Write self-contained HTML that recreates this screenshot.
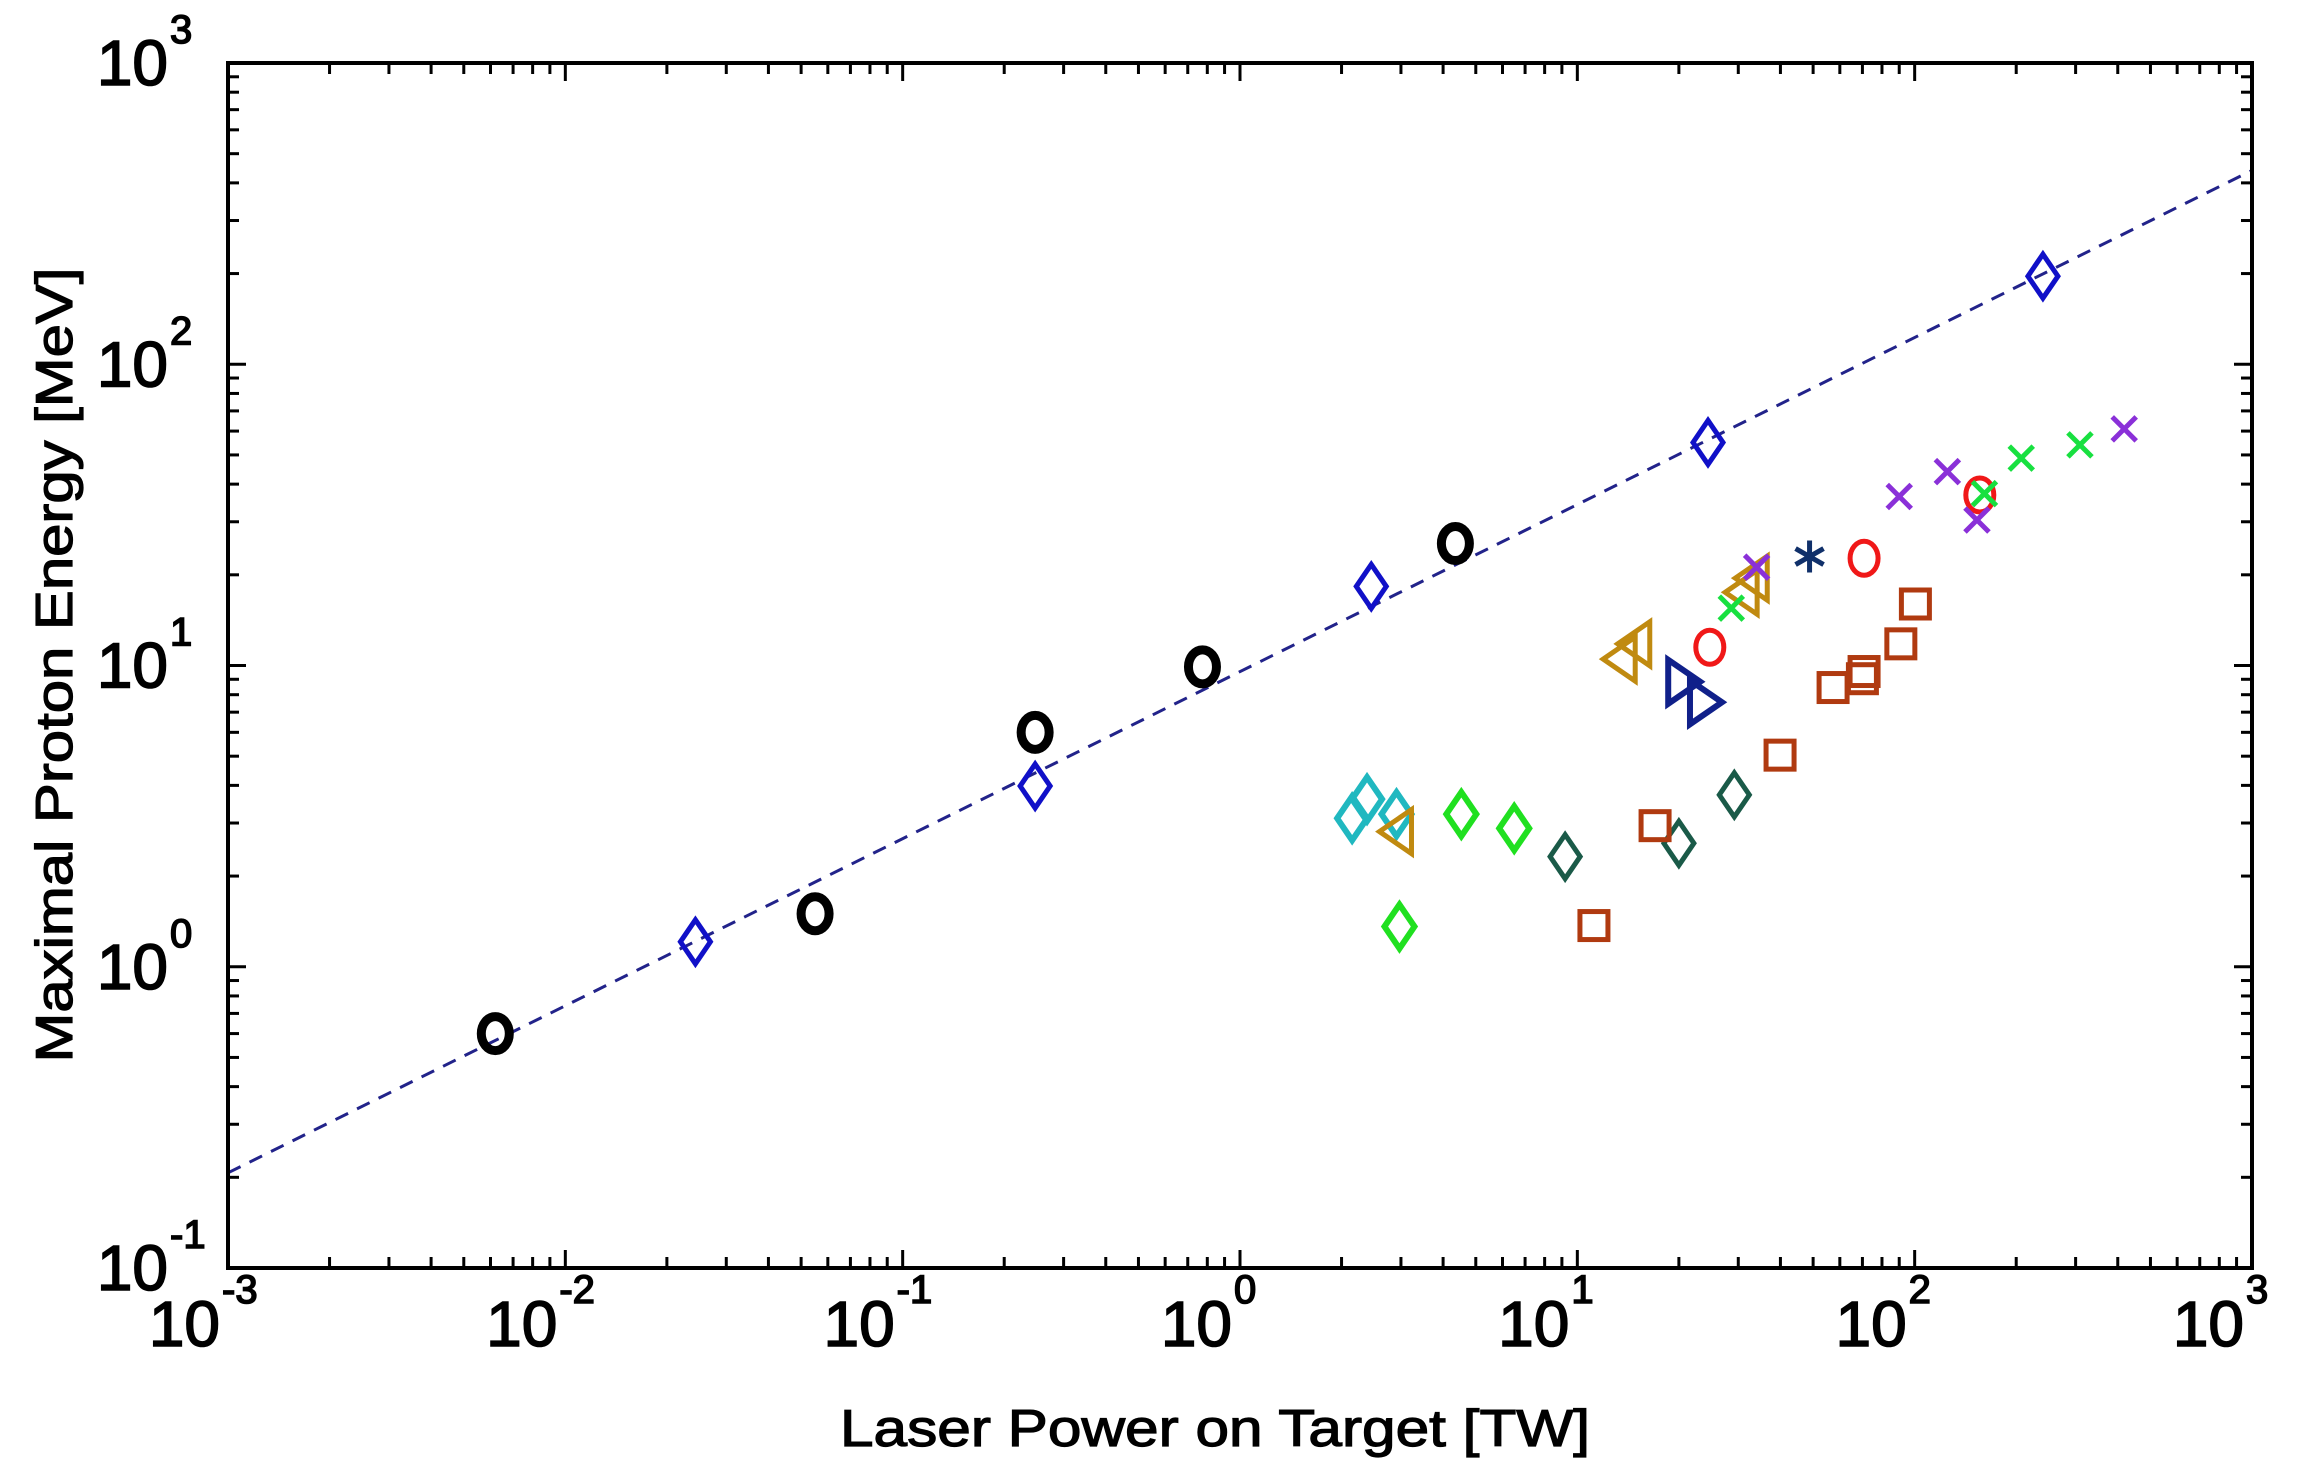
<!DOCTYPE html>
<html><head><meta charset="utf-8"><style>
html,body{margin:0;padding:0;background:#fff;}
svg{display:block;font-family:"Liberation Sans",Arial,sans-serif;}
</style></head><body>
<svg id="chart" width="2305" height="1478" viewBox="0 0 2305 1478" xmlns="http://www.w3.org/2000/svg">
<rect x="0" y="0" width="2305" height="1478" fill="#fff"/>
<g id="ticks"></g>
<g id="marks"></g>
<rect x="228" y="63" width="2024" height="1205" fill="none" stroke="#000" stroke-width="4"/>
<g id="labels" stroke="#000" stroke-width="1.6"></g>
<text x="1215" y="1446" font-size="52" text-anchor="middle" textLength="750" lengthAdjust="spacingAndGlyphs" stroke="#000" stroke-width="1.2">Laser Power on Target [TW]</text>
<text transform="translate(72,665) rotate(-90)" font-size="52" text-anchor="middle" textLength="795" lengthAdjust="spacingAndGlyphs" stroke="#000" stroke-width="1.2">Maximal Proton Energy [MeV]</text>
</svg>
<script>
const xTickExps = [-3,-2,-1,0,1,2,3];
const yTickExps = [-1,0,1,2,3];
const fitX = [0.001, 1000];
const fitY = [0.207, 440];
const blackCircX = [0.0062,0.055,0.247,0.774,4.35];
const blackCircY = [0.6,1.5,6.0,9.9,25.4];
const blueDiaX = [0.0243,0.247,2.45,24.4,240];
const blueDiaY = [1.21,3.98,18.3,55,196];
const cyanDiaX = [2.15,2.38,2.91];
const cyanDiaY = [3.11,3.6,3.21];
const lgreenDiaX = [2.97,4.53,6.5];
const lgreenDiaY = [1.36,3.21,2.88];
const dgreenDiaX = [9.2,20,29.2];
const dgreenDiaY = [2.32,2.57,3.72];
const brownSqX = [11.2,17,39.9,57.3,70,70.8,91,100.5];
const brownSqY = [1.37,2.94,5.04,8.45,9.04,9.55,11.8,16];
const orangeTriX = [2.91,13.4,14.8,30.8,33];
const orangeTriY = [2.81,10.5,11.8,17.5,19.5];
const navyTriX = [20.6,23.9];
const navyTriY = [8.83,7.55];
const redCircX = [24.7,70.8,156];
const redCircY = [11.5,22.7,36.8];
const asteriskX = [48.8];
const asteriskY = [23];
const greenXX = [28.6,161,207,309];
const greenXY = [15.5,37.2,48.8,54];
const purpleXX = [34,90,125,153,418];
const purpleXY = [21.2,36.4,44,30.4,61];

const L=228,R=2252,T=63,B=1268;
const NS='http://www.w3.org/2000/svg';
function sx(v){return L+(Math.log10(v)+3)/6*(R-L);}
function sy(v){return B-(Math.log10(v)+1)/4*(B-T);}
function el(tag,attrs,parent){const e=document.createElementNS(NS,tag);for(const k in attrs)e.setAttribute(k,attrs[k]);parent.appendChild(e);return e;}
const ticks=document.getElementById('ticks'),marks=document.getElementById('marks'),labels=document.getElementById('labels');

for(let e=-3;e<3;e++){for(let m=1;m<10;m++){const v=m*Math.pow(10,e);const x=sx(v);const len=m===1?18:11;
 const t1=el('line',{x1:x,y1:B,x2:x,y2:B-len,stroke:'#000','stroke-width':3},ticks);
 
 
 const t2=el('line',{x1:x,y1:T,x2:x,y2:T+len,stroke:'#000','stroke-width':3},ticks);
 
 }}
for(let e=-1;e<3;e++){for(let m=1;m<10;m++){const v=m*Math.pow(10,e);const y=sy(v);const len=m===1?18:11;
 const t1=el('line',{x1:L,y1:y,x2:L+len,y2:y,stroke:'#000','stroke-width':3},ticks);
 
 
 const t2=el('line',{x1:R,y1:y,x2:R-len,y2:y,stroke:'#000','stroke-width':3},ticks);
 
 }}

xTickExps.forEach(e=>{const x=sx(Math.pow(10,e));
 const t=el('text',{x:x-8,y:1346,'font-size':64,'text-anchor':'end'},labels);t.textContent='10';
 
 
 const s=el('text',{x:x-6,y:1303,'font-size':40,'text-anchor':'start'},labels);s.textContent=String(e);
 
 });
yTickExps.forEach(e=>{const y=sy(Math.pow(10,e));
 const t=el('text',{x:168,y:y+22,'font-size':64,'text-anchor':'end'},labels);t.textContent='10';
 
 
 const s=el('text',{x:170,y:y-20,'font-size':40,'text-anchor':'start'},labels);s.textContent=String(e);
 
 });

const fl=el('line',{x1:sx(fitX[0]),y1:sy(fitY[0]),x2:sx(fitX[1]),y2:sy(fitY[1]),stroke:'#22238a','stroke-width':3,'stroke-dasharray':'14 10'},marks);



function draw(xs,ys,shape,color,name,sw,size){
 xs.forEach((xv,i)=>{const x=sx(xv),y=sy(ys[i]);let e;const s=size||1;
  if(shape==='circle'){e=el('ellipse',{cx:x,cy:y,rx:14*s,ry:17*s,fill:'none',stroke:color,'stroke-width':sw},marks);}
  else if(shape==='diamond'){e=el('polygon',{points:`${x},${y-22*s} ${x+15*s},${y} ${x},${y+22*s} ${x-15*s},${y}`,fill:'none',stroke:color,'stroke-width':sw},marks);}
  else if(shape==='square'){e=el('rect',{x:x-14,y:y-14,width:28,height:28,fill:'none',stroke:color,'stroke-width':sw},marks);}
  else if(shape==='tril'){e=el('polygon',{points:`${x-17},${y} ${x+15},${y-22} ${x+15},${y+22}`,fill:'none',stroke:color,'stroke-width':sw},marks);}
  else if(shape==='trir'){e=el('polygon',{points:`${x+17},${y} ${x-15},${y-22} ${x-15},${y+22}`,fill:'none',stroke:color,'stroke-width':sw},marks);}
  else if(shape==='x'){e=el('path',{d:`M${x-12},${y-12}L${x+12},${y+12}M${x-12},${y+12}L${x+12},${y-12}`,fill:'none',stroke:color,'stroke-width':sw},marks);}
  else if(shape==='star'){e=el('path',{d:`M${x},${y-16}L${x},${y+16}M${x-14},${y-8}L${x+14},${y+8}M${x-14},${y+8}L${x+14},${y-8}`,fill:'none',stroke:color,'stroke-width':sw},marks);}
  
  
 });
}
draw(blackCircX,blackCircY,'circle','#000','black-circle-point',9);
draw(blueDiaX,blueDiaY,'diamond','#1010c8','blue-diamond-point',5);
draw(cyanDiaX,cyanDiaY,'diamond','#20b8c0','cyan-diamond-point',6);
draw(lgreenDiaX,lgreenDiaY,'diamond','#20e020','green-diamond-point',6);
draw(dgreenDiaX,dgreenDiaY,'diamond','#1a5a48','dark-green-diamond-point',5);
draw(brownSqX,brownSqY,'square','#b03a10','brown-square-point',5);
draw(orangeTriX,orangeTriY,'tril','#c08a10','orange-triangle-point',5);
draw(navyTriX,navyTriY,'trir','#10208a','navy-triangle-point',6);
draw(redCircX,redCircY,'circle','#f01818','red-circle-point',5);
draw(asteriskX,asteriskY,'star','#10306a','navy-asterisk-point',5);
draw(greenXX,greenXY,'x','#18e040','green-x-point',5);
draw(purpleXX,purpleXY,'x','#8a30d8','purple-x-point',5);
</script>
</body></html>
